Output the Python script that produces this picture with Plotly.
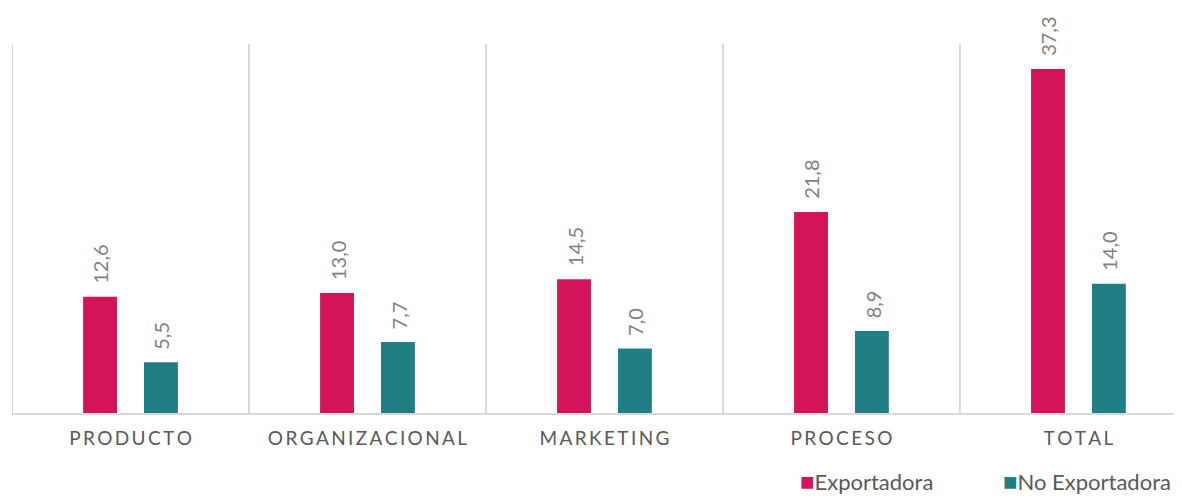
import plotly.graph_objects as go

categories = ['PRODUCTO', 'ORGANIZACIONAL', 'MARKETING', 'PROCESO', 'TOTAL']
exportadora = [12.6, 13.0, 14.5, 21.8, 37.3]
no_exportadora = [5.5, 7.7, 7.0, 8.9, 14.0]
series_names = ['Exportadora', 'No Exportadora']

red = '#D4145A'
teal = '#1F7F84'
grid = '#D9D9D9'
gray_txt = '#595959'
val_txt = '#7F7F7F'


def fmt(v):
    # decimal comma, like the original
    return f'{v:.1f}'.replace('.', ',')


fig = go.Figure()
fig.add_trace(go.Bar(x=categories, y=exportadora, name=series_names[0],
                     marker=dict(color=red, line=dict(width=0)),
                     width=0.143, offset=-0.2))
fig.add_trace(go.Bar(x=categories, y=no_exportadora, name=series_names[1],
                     marker=dict(color=teal, line=dict(width=0)),
                     width=0.143, offset=0.057))

# value labels, rotated, above each bar
for vals, dx in [(exportadora, -30), (no_exportadora, 31)]:
    for cat, v in zip(categories, vals):
        fig.add_annotation(x=cat, y=v, text=fmt(v), textangle=-90, showarrow=False,
                           xanchor='center', yanchor='bottom', xshift=dx, yshift=11,
                           font=dict(family='Lato', size=20, color=val_txt))

# vertical separators between categories
for i in range(len(categories)):
    fig.add_shape(type='line', xref='x', yref='paper', x0=i - 0.5, x1=i - 0.5,
                  y0=0, y1=1, line=dict(color=grid, width=2), layer='below')

# legend drawn as text so the swatch sits right next to the label
for name, col, lx in [(series_names[0], red, 0.6715), (series_names[1], teal, 0.845)]:
    fig.add_annotation(xref='paper', yref='paper', x=lx, y=-0.182,
                       xanchor='left', yanchor='middle', showarrow=False,
                       text=f'<span style="color:{col};font-size:24px">■</span>{name}',
                       font=dict(family='Lato', size=22, color=gray_txt))

# page body has an 8px margin, so the figure is 8px smaller than the window
fig.update_layout(
    width=1174, height=491,
    margin=dict(l=4, r=0, t=36, b=86, autoexpand=False),
    plot_bgcolor='white', paper_bgcolor='white',
    barmode='overlay',
    font=dict(family='Lato', color=gray_txt),
    showlegend=False,
)
fig.update_xaxes(type='category', range=[-0.5, 4.437], automargin=False,
                 tickvals=categories, ticktext=['\u2009'.join(c) for c in categories],
                 tickfont=dict(family='Lato', size=19, color=gray_txt),
                 showline=True, linecolor=grid, linewidth=2,
                 ticks='', showgrid=False, ticklabelstandoff=7)
fig.update_yaxes(range=[0, 40], visible=False, showgrid=False, zeroline=False,
                 automargin=False)

fig.write_html('out.html')
